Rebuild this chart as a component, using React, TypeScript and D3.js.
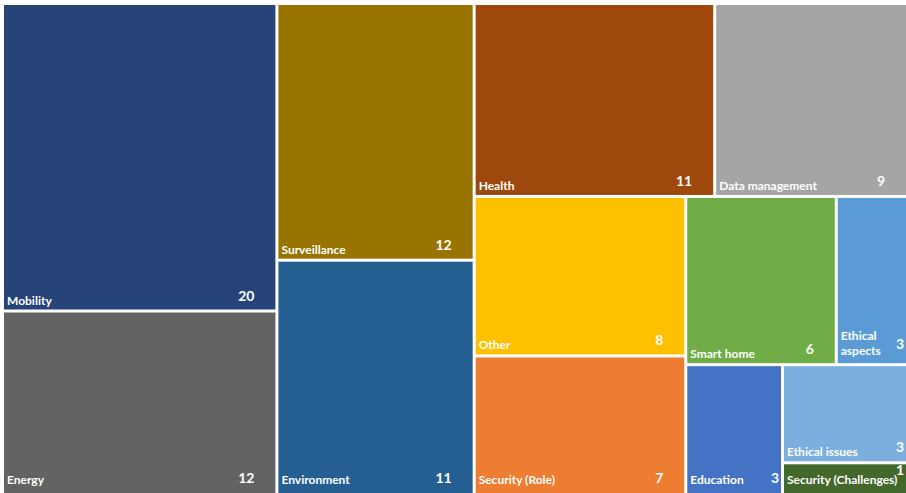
import React, { useMemo } from 'react';
import * as d3 from 'd3';

const categories = [
  'Mobility', 'Energy', 'Surveillance', 'Environment', 'Health', 'Data management',
  'Other', 'Security (Role)', 'Smart home', 'Ethical aspects', 'Education',
  'Ethical issues', 'Security (Challenges)',
];
const counts = [20, 12, 12, 11, 11, 9, 8, 7, 6, 3, 3, 3, 1];
const colors = [
  '#264478', '#636363', '#997300', '#255E91', '#9E480E', '#A5A5A5',
  '#FFC000', '#ED7D31', '#70AD47', '#5B9BD5', '#4472C4', '#7CAFDD', '#43682B',
];

const W = 906;
const H = 493;
const LABEL_SIZE = 12;
const VALUE_SIZE = 14;
const LABEL_FONT = `bold ${LABEL_SIZE}px Lato`;
const VALUE_FONT = `bold ${VALUE_SIZE}px Lato`;

// Squarified tiling that judges strips by their average aspect ratio (Excel-like)
function excelTile(parent: any, x0: number, y0: number, x1: number, y1: number) {
  const nodes = parent.children;
  const n = nodes.length;
  let i0 = 0;
  let remaining = parent.value;
  while (i0 < n) {
    const dx = x1 - x0;
    const dy = y1 - y0;
    const rowAlongTop = dx < dy;
    const side = rowAlongTop ? dx : dy;
    const depth = rowAlongTop ? dy : dx;
    const avg = (end: number) => {
      let sum = 0;
      for (let i = i0; i < end; i++) sum += nodes[i].value;
      const t = (sum / remaining) * depth;
      let r = 0;
      for (let i = i0; i < end; i++) {
        const l = (nodes[i].value / sum) * side;
        r += Math.max(t / l, l / t);
      }
      return r / (end - i0);
    };
    let i1 = i0 + 1;
    let best = avg(i1);
    while (i1 < n) {
      const r = avg(i1 + 1);
      if (r > best) break;
      best = r;
      i1++;
    }
    let sum = 0;
    for (let i = i0; i < i1; i++) sum += nodes[i].value;
    const t = i1 >= n ? depth : (sum / remaining) * depth;
    let pos = rowAlongTop ? x0 : y0;
    for (let i = i0; i < i1; i++) {
      const node = nodes[i];
      const l = (node.value / sum) * side;
      if (rowAlongTop) {
        node.x0 = pos; node.x1 = pos + l; node.y0 = y0; node.y1 = y0 + t;
      } else {
        node.y0 = pos; node.y1 = pos + l; node.x0 = x0; node.x1 = x0 + t;
      }
      pos += l;
    }
    if (rowAlongTop) y0 += t; else x0 += t;
    remaining -= sum;
    i0 = i1;
  }
}

export default function App() {
  const leaves = useMemo(() => {
    const data = {
      name: 'root',
      children: categories.map((c, i) => ({ name: c, value: counts[i], color: colors[i] })),
    };
    const root = d3.hierarchy<any>(data).sum((d: any) => d.value || 0);
    d3.treemap<any>().tile(excelTile as any).size([W - 4 + 4, H - 5 + 1]).paddingInner(3).round(false)(root);
    return root.leaves().map((l: any) => ({
      x0: l.x0 + 4, y0: l.y0 + 5, x1: l.x1 + 4, y1: l.y1 + 5, data: l.data,
    }));
  }, []);

  const measure = useMemo(() => {
    const canvas = document.createElement('canvas');
    const ctx = canvas.getContext('2d')!;
    return (text: string, font: string) => {
      ctx.font = font;
      return ctx.measureText(text).width;
    };
  }, []);

  return (
    <div style={{ position: 'absolute', left: 0, top: 0, width: W, height: H, background: '#fff', overflow: 'hidden' }}>
      <svg width={W} height={H} style={{ display: 'block', fontFamily: 'Lato, sans-serif' }}>
        <rect x={0} y={0} width={W} height={H} fill="#ffffff" />
        {leaves.map((l: any, i: number) => {
          const w = l.x1 - l.x0;
          const h = l.y1 - l.y0;
          const label: string = l.data.name;
          const value = String(l.data.value);
          const lw = measure(label, LABEL_FONT);
          const vw = measure(value, VALUE_FONT);
          const atBottom = l.y1 >= H - 1;
          const rightEdge = Math.min(l.x1, W);
          const pad = w < 130 ? 2 : 21;
          const lx = l.x0 + 3;
          const vx = rightEdge - pad;
          let labelLines: { text: string; y: number }[] = [];
          let vy: number;
          const baseLabel = atBottom ? l.y1 - 10 : l.y1 - 5;
          const baseValue = atBottom ? l.y1 - 11 : l.y1 - 9;
          if (3 + lw + 8 + vw + pad <= rightEdge - l.x0) {
            labelLines = [{ text: label, y: baseLabel }];
            vy = baseValue;
          } else if (h > 60) {
            const words = label.split(' ');
            labelLines = words.map((wd, k) => ({ text: wd, y: l.y1 - 8 - (words.length - 1 - k) * 15 }));
            vy = l.y1 - 14;
          } else {
            labelLines = [{ text: label, y: baseLabel }];
            vy = baseLabel - 9;
          }
          return (
            <g key={i}>
              <rect x={l.x0} y={l.y0} width={w} height={h} fill={l.data.color} />
              {labelLines.map((ln, k) => (
                <text key={k} x={lx} y={ln.y} fill="#ffffff" fontWeight="bold" fontSize={LABEL_SIZE}>
                  {ln.text}
                </text>
              ))}
              <text x={vx} y={vy} fill="#ffffff" fontWeight="bold" fontSize={VALUE_SIZE} textAnchor="end">
                {value}
              </text>
            </g>
          );
        })}
      </svg>
    </div>
  );
}
